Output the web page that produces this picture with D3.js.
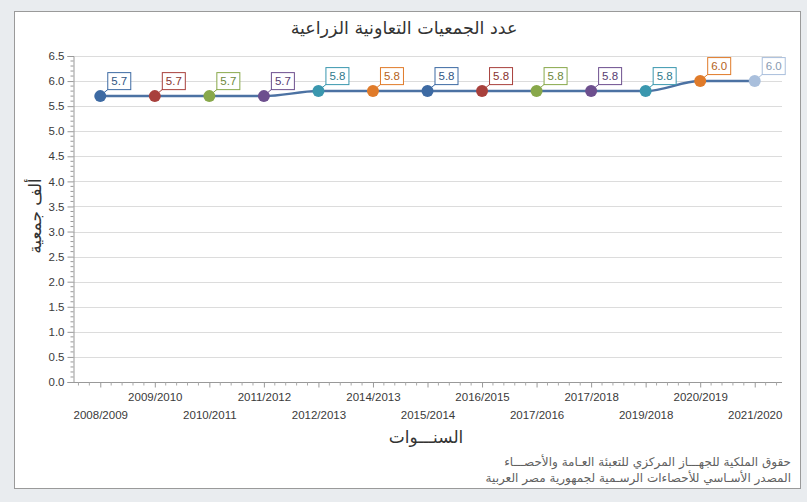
<!DOCTYPE html>
<html>
<head>
<meta charset="utf-8">
<script src="https://cdn.jsdelivr.net/npm/d3@7"></script>
<style>
  body { margin: 0; background: #e9ecef; }
  svg { display: block; }
</style>
</head>
<body>
<div id="chart"></div>
<script>
var years = ["2008/2009", "2009/2010", "2010/2011", "2011/2012", "2012/2013", "2014/2013", "2015/2014",
    "2016/2015", "2017/2016", "2017/2018", "2019/2018", "2020/2019", "2021/2020"];
var values = [5.7, 5.7, 5.7, 5.7, 5.8, 5.8, 5.8, 5.8, 5.8, 5.8, 5.8, 6.0, 6.0];
var pointColors = ["#3d6aa3", "#a8403c", "#88a84a", "#6d4f8e", "#3a97ae", "#e07b2a",
    "#3d6aa3", "#a8403c", "#88a84a", "#6d4f8e", "#3a97ae", "#e07b2a", "#a9bfdc"];
var yTicks = [0, 0.5, 1, 1.5, 2, 2.5, 3, 3.5, 4, 4.5, 5, 5.5, 6, 6.5];

var W = 807, H = 502;
var plot = { left: 73, right: 782, top: 56, bottom: 382 };

var svg = d3.select("#chart").append("svg")
    .attr("width", W)
    .attr("height", H);

// white panel
svg.append("rect")
    .attr("x", 14.5).attr("y", 11.5)
    .attr("width", 786).attr("height", 477)
    .attr("fill", "#fff")
    .attr("stroke", "#9a9a9a");

var x = d3.scalePoint()
    .domain(years)
    .range([plot.left, plot.right])
    .padding(0.5);

var y = d3.scaleLinear()
    .domain([0, 6.5])
    .range([plot.bottom, plot.top]);

// grid
svg.append("g")
    .selectAll("line")
    .data(yTicks.filter(function(d){ return d > 0; }))
    .enter().append("line")
    .attr("x1", plot.left).attr("x2", plot.right)
    .attr("y1", function(d){ return Math.round(y(d)) + 0.5; })
    .attr("y2", function(d){ return Math.round(y(d)) + 0.5; })
    .attr("stroke", "#dcdcdc");

// y axis
var yAxis = svg.append("g")
    .attr("transform", "translate(" + (plot.left + 0.5) + ",0)")
    .call(d3.axisLeft(y).tickValues(yTicks).tickFormat(d3.format(".1f")).tickSize(6).tickPadding(3));

var minorY = d3.range(0, 66).map(function(d){ return d / 10; })
    .filter(function(d, i){ return i % 5 !== 0; });
yAxis.selectAll(".minor")
    .data(minorY)
    .enter().append("line")
    .attr("class", "minor")
    .attr("x1", -3).attr("x2", 0)
    .attr("y1", function(d){ return y(d); })
    .attr("y2", function(d){ return y(d); })
    .attr("stroke", "#999");

// x axis
var xAxis = svg.append("g")
    .attr("transform", "translate(0," + (plot.bottom + 0.5) + ")")
    .call(d3.axisBottom(x).tickSize(5).tickPadding(4));

var step = x.step();
var minorX = [];
for (var i = 0; i <= years.length; i++) {
    for (var k = 1; k < 5; k++) {
        var mx = plot.left + i * step + k * step / 5 - step / 2;
        if (mx > plot.left && mx < plot.right) minorX.push(mx);
    }
}
xAxis.selectAll(".minor")
    .data(minorX)
    .enter().append("line")
    .attr("class", "minor")
    .attr("x1", function(d){ return d; })
    .attr("x2", function(d){ return d; })
    .attr("y1", 0).attr("y2", 3)
    .attr("stroke", "#aaa");

xAxis.selectAll(".tick text")
    .attr("dy", function(d, i){ return i % 2 === 0 ? "2.35em" : "0.8em"; });

[yAxis, xAxis].forEach(function(a){
    a.select(".domain").attr("stroke", "#999");
    a.selectAll(".tick line").attr("stroke", "#999");
    a.selectAll(".tick text")
        .attr("fill", "#3a3a3a")
        .style("font-family", "'Liberation Sans', Arial, sans-serif")
        .style("font-size", "11.5px");
});
xAxis.select(".domain").attr("d", "M" + plot.left + ",0H" + plot.right);

// line
var line = d3.line()
    .x(function(d, i){ return x(years[i]); })
    .y(function(d){ return y(d); })
    .curve(d3.curveMonotoneX);

svg.append("path")
    .datum(values)
    .attr("d", line)
    .attr("fill", "none")
    .attr("stroke", "#4c72a3")
    .attr("stroke-width", 2.5);

// labels
var labels = svg.append("g").selectAll("g")
    .data(values)
    .enter().append("g")
    .attr("transform", function(d, i){ return "translate(" + x(years[i]) + "," + y(d) + ")"; });

labels.append("line")
    .attr("x1", 2).attr("y1", -2)
    .attr("x2", 8).attr("y2", -7)
    .attr("stroke", function(d, i){ return pointColors[i]; });

labels.append("rect")
    .attr("x", 7.5).attr("y", -23.5)
    .attr("width", 23).attr("height", 17)
    .attr("fill", "#fff")
    .attr("stroke", function(d, i){ return pointColors[i]; });

labels.append("text")
    .attr("x", 19).attr("y", -11)
    .attr("text-anchor", "middle")
    .style("font-family", "'Liberation Sans', Arial, sans-serif")
    .style("font-size", "11.5px")
    .attr("fill", function(d, i){ return d3.color(pointColors[i]).darker(0.6); })
    .text(function(d){ return d3.format(".1f")(d); });

// points
svg.append("g").selectAll("circle")
    .data(values)
    .enter().append("circle")
    .attr("cx", function(d, i){ return x(years[i]); })
    .attr("cy", function(d){ return y(d); })
    .attr("r", 6)
    .attr("fill", function(d, i){ return pointColors[i]; });

// titles
var arabic = "'DejaVu Sans', sans-serif";
svg.append("text")
    .attr("x", 404).attr("y", 34)
    .attr("text-anchor", "middle")
    .style("font-family", arabic)
    .style("font-size", "17.5px")
    .attr("fill", "#333")
    .text("عدد الجمعيات التعاونية الزراعية");

svg.append("text")
    .attr("transform", "translate(41,216) rotate(-90)")
    .attr("text-anchor", "middle")
    .style("font-family", arabic)
    .style("font-size", "17px")
    .attr("fill", "#333")
    .text("ألف جمعية");

svg.append("text")
    .attr("x", 426).attr("y", 443)
    .attr("text-anchor", "middle")
    .style("font-family", arabic)
    .style("font-size", "17px")
    .attr("fill", "#333")
    .text("السنـــوات");

var footer = ["حقوق الملكية للجهـــاز المركزي للتعبئة العـامة والأحصـــاء",
    "المصدر الأسـاسي للأحصاءات الرسـمية لجمهورية مصر العربية"];
svg.append("g").selectAll("text")
    .data(footer)
    .enter().append("text")
    .attr("x", 791)
    .attr("y", function(d, i){ return 466 + i * 16; })
    .attr("text-anchor", "end")
    .style("font-family", arabic)
    .style("font-size", "12px")
    .attr("fill", "#606060")
    .text(function(d){ return d; });
</script>
</body>
</html>
